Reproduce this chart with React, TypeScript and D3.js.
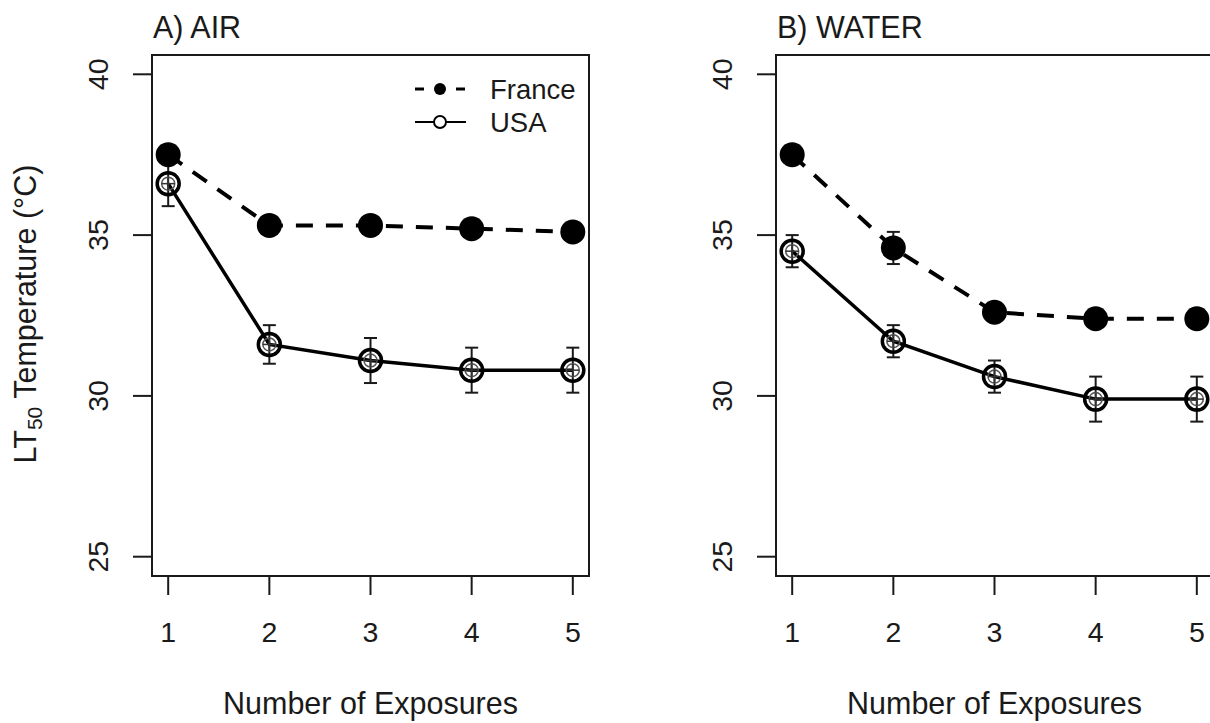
import React from "react";
import { scaleLinear, line } from "d3";

const exposures = [1, 2, 3, 4, 5];
const yTicks = [25, 30, 35, 40];

const airFrance = [37.5, 35.3, 35.3, 35.2, 35.1];
const airFranceErr = [0.3, 0.2, 0.2, 0.2, 0.2];
const airUSA = [36.6, 31.6, 31.1, 30.8, 30.8];
const airUSAErr = [0.7, 0.6, 0.7, 0.7, 0.7];

const waterFrance = [37.5, 34.6, 32.6, 32.4, 32.4];
const waterFranceErr = [0.3, 0.5, 0.2, 0.2, 0.2];
const waterUSA = [34.5, 31.7, 30.6, 29.9, 29.9];
const waterUSAErr = [0.5, 0.5, 0.5, 0.7, 0.7];

const panels = [
  { title: "A) AIR", left: 152, france: airFrance, franceErr: airFranceErr, usa: airUSA, usaErr: airUSAErr, legend: true },
  { title: "B) WATER", left: 776, france: waterFrance, franceErr: waterFranceErr, usa: waterUSA, usaErr: waterUSAErr, legend: false },
];

const FONT = "'Liberation Sans', Arial, Helvetica, sans-serif";
const INK = "#1a1a1a";
const TOP = 55;
const BOTTOM = 576;
const WIDTH = 437;

function Panel({ p }) {
  const x = scaleLinear().domain([0.84, 5.16]).range([p.left, p.left + WIDTH]);
  const y = scaleLinear().domain([24.4, 40.6]).range([BOTTOM, TOP]);
  const path = line<number>().x((d, i) => x(exposures[i])).y(d => y(d));

  const errBars = (vals, errs, key) =>
    vals.map((v, i) => {
      const cx = x(exposures[i]);
      const y0 = y(v - errs[i]);
      const y1 = y(v + errs[i]);
      return (
        <g key={key + i} stroke={INK} strokeWidth={2}>
          <line x1={cx} x2={cx} y1={y0} y2={y1} />
          <line x1={cx - 6.5} x2={cx + 6.5} y1={y0} y2={y0} />
          <line x1={cx - 6.5} x2={cx + 6.5} y1={y1} y2={y1} />
        </g>
      );
    });

  const cx = (p.left + p.left + WIDTH) / 2;

  return (
    <g>
      {/* box */}
      <rect x={p.left} y={TOP} width={WIDTH} height={BOTTOM - TOP} fill="none" stroke={INK} strokeWidth={2} />
      <text x={p.left + 1} y={38} fontSize={30.5} fill={INK}>{p.title}</text>

      {/* y axis */}
      {yTicks.map(t => (
        <g key={t}>
          <line x1={p.left - 19} x2={p.left} y1={y(t)} y2={y(t)} stroke={INK} strokeWidth={2} />
          <text transform={`translate(${p.left - 44},${y(t)}) rotate(-90)`} textAnchor="middle" fontSize={28.5} fill={INK}>{t}</text>
        </g>
      ))}

      {/* x axis */}
      {exposures.map(t => (
        <g key={t}>
          <line x1={x(t)} x2={x(t)} y1={BOTTOM} y2={BOTTOM + 19} stroke={INK} strokeWidth={2} />
          <text x={x(t)} y={642} textAnchor="middle" fontSize={28.5} fill={INK}>{t}</text>
        </g>
      ))}
      <text x={cx} y={714} textAnchor="middle" fontSize={30.5} fill={INK}>Number of Exposures</text>

      {/* lines */}
      <path d={path(p.france)} fill="none" stroke="#000" strokeWidth={4} strokeDasharray="17,13" />
      <path d={path(p.usa)} fill="none" stroke="#000" strokeWidth={3.5} />

      {errBars(p.france, p.franceErr, "f")}
      {errBars(p.usa, p.usaErr, "u")}

      {/* markers */}
      {p.france.map((v, i) => (
        <circle key={"fm" + i} cx={x(exposures[i])} cy={y(v)} r={12.5} fill="#000" />
      ))}
      {p.usa.map((v, i) => {
        const px = x(exposures[i]);
        const py = y(v);
        return (
          <g key={"um" + i} fill="none">
            <circle cx={px} cy={py} r={11} stroke="#000" strokeWidth={3.5} />
            <circle cx={px} cy={py} r={6.5} stroke="#555" strokeWidth={1.5} />
            <line x1={px - 6.5} x2={px + 6.5} y1={py} y2={py} stroke="#333" strokeWidth={1.5} />
            <line x1={px} x2={px} y1={py - 6.5} y2={py + 6.5} stroke="#333" strokeWidth={1.5} />
          </g>
        );
      })}

      {p.legend && (
        <g>
          <line x1={415} x2={465} y1={89} y2={89} stroke="#000" strokeWidth={3} strokeDasharray="9,32" />
          <circle cx={440} cy={89} r={6} fill="#000" />
          <text x={490} y={99} fontSize={27.5} fill={INK}>France</text>
          <line x1={415} x2={466} y1={122} y2={122} stroke="#000" strokeWidth={2} />
          <circle cx={440} cy={122} r={6} fill="#fff" stroke="#000" strokeWidth={2} />
          <text x={490} y={132} fontSize={27.5} fill={INK}>USA</text>
        </g>
      )}
    </g>
  );
}

export default function App() {
  return (
    <svg width={1210} height={723} style={{ position: "absolute", left: 0, top: 0, background: "#fff" }} fontFamily={FONT}>
      <rect width={1210} height={723} fill="#fff" />
      {panels.map(p => <Panel key={p.title} p={p} />)}
      <text transform="translate(36,314) rotate(-90)" textAnchor="middle" fontSize={30.5} fill={INK}>
        LT<tspan fontSize={21} dy={6}>50</tspan><tspan dy={-6}> Temperature (°C)</tspan>
      </text>
    </svg>
  );
}
